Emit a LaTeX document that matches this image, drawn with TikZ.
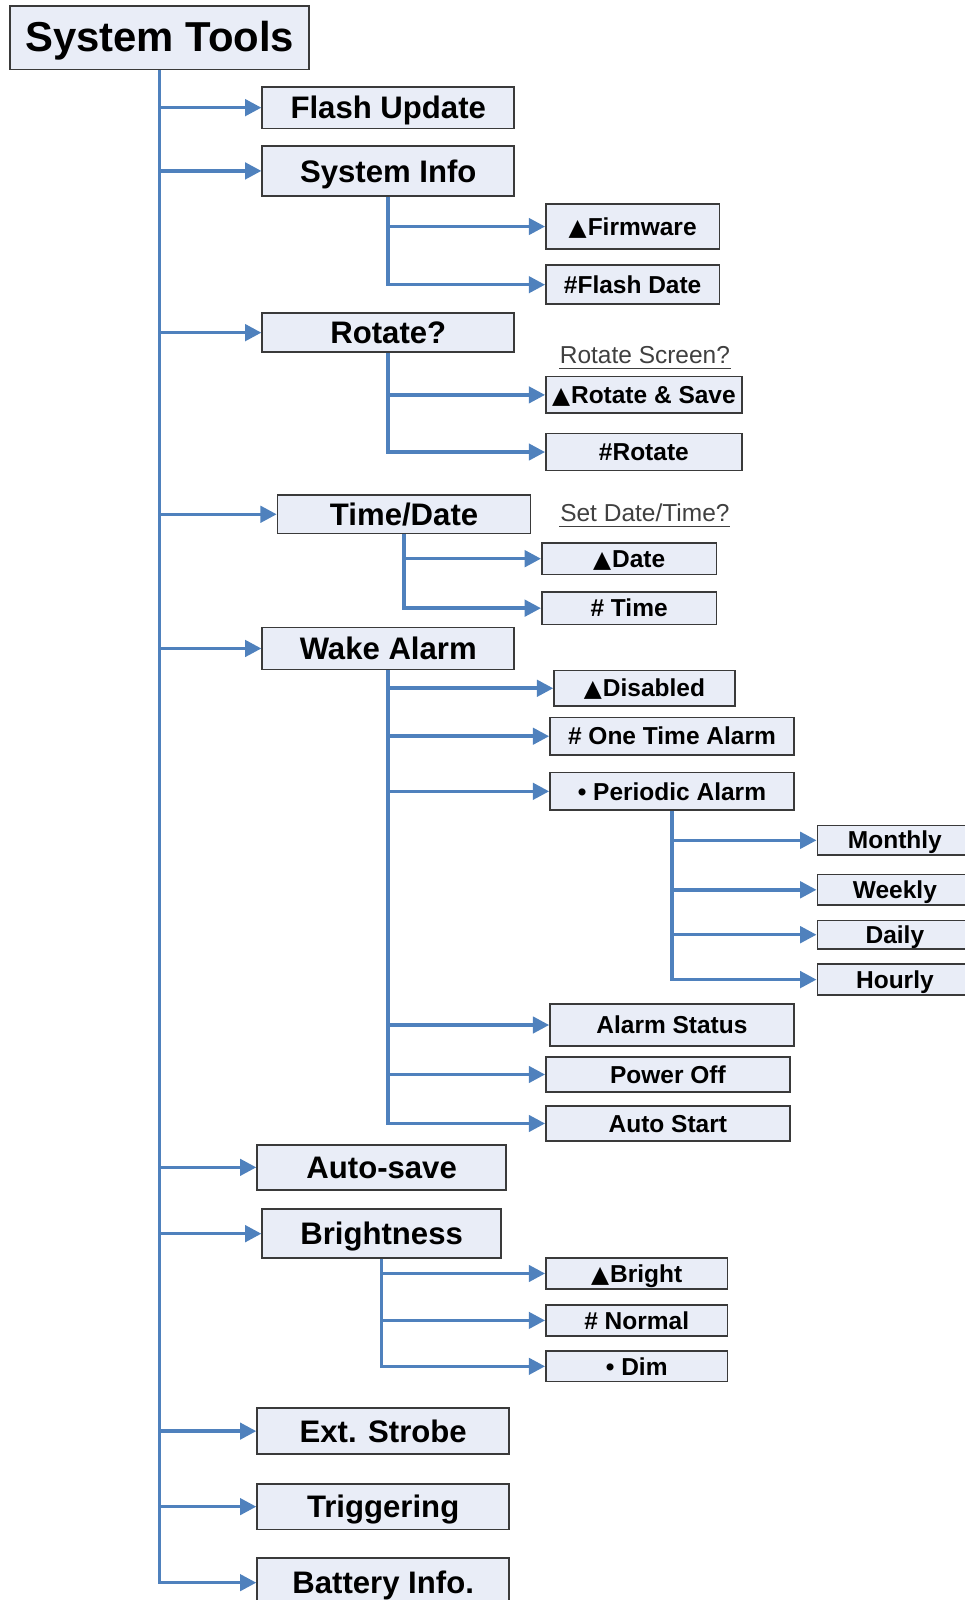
\documentclass[tikz,border=0pt]{standalone}
\usepackage{fontspec}
\setmainfont{Liberation Sans}
\newfontfamily\shapefont{DejaVu Sans}
\usetikzlibrary{arrows.meta}
\definecolor{linkblue}{RGB}{79,129,189}
\definecolor{boxfill}{RGB}{233,237,247}
\definecolor{boxline}{RGB}{58,58,58}
\definecolor{notegray}{RGB}{64,64,64}
\newcommand{\tri}{{\shapefont\fontsize{23}{23}\selectfont ▲}\kern1pt}
\begin{document}
\begin{tikzpicture}[x=1pt, y=-1pt,
        every node/.style={rectangle, draw=boxline, fill=boxfill, line width=1.6pt, inner sep=0pt,
            text height=17pt, text depth=0pt, font=\bfseries\fontsize{24}{24}\selectfont},
        wh/.style 2 args={minimum width=#1pt, minimum height=#2pt},
        root/.style={text height=27pt, font=\bfseries\fontsize{41}{41}\selectfont},
        menu/.style={text height=22pt, font=\bfseries\fontsize{30.5}{30.5}\selectfont},
        note/.style={draw=none, fill=none, text=notegray, anchor=base, text height=, text depth=,
            font=\fontsize{24}{24}\selectfont},
        link/.style={line width=3.5pt, linkblue, -{Triangle[length=16pt, width=16pt]}}]
    \useasboundingbox (0, 0) rectangle (945, 1568);
    \node[root, wh={293}{62}] (tools) at (156.5, 37) {System Tools};
    % first level
    \node[menu, wh={247}{41}] (flash) at (380.5, 105.5) {Flash Update};
    \node[menu, wh={247}{49}] (info) at (380.5, 167.5) {System Info};
    \node[menu, wh={247}{38}] (rotate) at (380.5, 326) {Rotate?};
    \node[menu, wh={248}{38}] (timedate) at (396, 504) {Time/Date};
    \node[menu, wh={247}{41}] (wake) at (380.5, 635.5) {Wake Alarm};
    \node[menu, wh={244}{44}] (autosave) at (374, 1144) {Auto-save};
    \node[menu, wh={234}{48}] (bright) at (374, 1209) {Brightness};
    \node[menu, wh={247}{45}] (strobe) at (375.5, 1402.5) {Ext. Strobe};
    \node[menu, wh={247}{45}] (trigger) at (375.5, 1476.5) {Triggering};
    \node[menu, wh={247}{48}] (battery) at (375.5, 1551) {Battery Info.};
    % second level
    \node[wh={170}{44}] (firmware) at (620, 222) {\tri Firmware};
    \node[wh={170}{38}] (flashdate) at (620, 279) {\#Flash Date};
    \node[note] (rotnote) at (632, 356) {Rotate Screen?};
    \node[wh={192}{36}] (rotsave) at (631, 387) {\tri Rotate \& Save};
    \node[wh={192}{36}] (rotonly) at (631, 443) {\#Rotate};
    \node[note] (tdnote) at (632, 511) {Set Date/Time?};
    \node[wh={171}{31}] (date) at (616.5, 547.5) {\tri Date};
    \node[wh={171}{32}] (time) at (616.5, 596) {\# Time};
    \node[wh={177}{35}] (disabled) at (631.5, 674.5) {\tri Disabled};
    \node[wh={239}{37}] (onetime) at (658.5, 721.5) {\# One Time Alarm};
    \node[wh={239}{37}] (periodic) at (658.5, 775.5) {• Periodic Alarm};
    \node[wh={239}{41}] (status) at (658.5, 1004.5) {Alarm Status};
    \node[wh={239}{34}] (poweroff) at (654.5, 1053) {Power Off};
    \node[wh={239}{34}] (autostart) at (654.5, 1101) {Auto Start};
    \node[wh={178}{30}] (brightopt) at (624, 1248) {\tri Bright};
    \node[wh={178}{30}] (normal) at (624, 1294) {\# Normal};
    \node[wh={178}{30}] (dim) at (624, 1339) {• Dim};
    % third level
    \node[wh={152}{29}] (monthly) at (877, 823.5) {Monthly};
    \node[wh={152}{30}] (weekly) at (877, 872) {Weekly};
    \node[wh={152}{28}] (daily) at (877, 916) {Daily};
    \node[wh={152}{30}] (hourly) at (877, 960) {Hourly};
    % underlines of the prompts
    \draw[notegray, line width=1.4pt] ([yshift=-5pt]rotnote.base west) -- ([yshift=-5pt]rotnote.base east);
    \draw[notegray, line width=1.4pt] ([yshift=-5pt]tdnote.base west) -- ([yshift=-5pt]tdnote.base east);
    % connectors
    \foreach \n in {flash, info, rotate, timedate, wake, autosave, bright, strobe, trigger, battery}
        \draw[link] (tools.south) |- (\n.west);
    \foreach \n in {firmware, flashdate}
        \draw[link] (info.south) |- (\n.west);
    \foreach \n in {rotsave, rotonly}
        \draw[link] (rotate.south) |- (\n.west);
    \foreach \n in {date, time}
        \draw[link] (timedate.south) |- (\n.west);
    \foreach \n in {disabled, onetime, periodic, status, poweroff, autostart}
        \draw[link] (wake.south) |- (\n.west);
    \foreach \n in {monthly, weekly, daily, hourly}
        \draw[link] (periodic.south) |- (\n.west);
    \foreach \n in {brightopt, normal, dim}
        \draw[link] (bright.south) |- (\n.west);
\end{tikzpicture}
\end{document}
